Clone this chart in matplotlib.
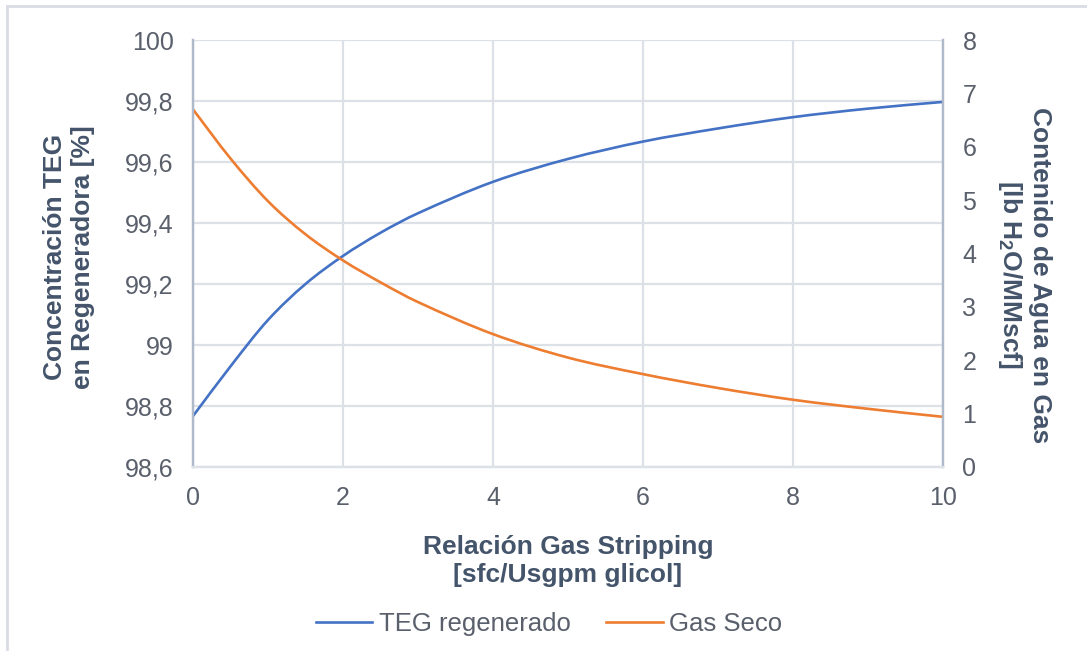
import matplotlib
matplotlib.use("Agg")
from matplotlib import pyplot as plt
from matplotlib.lines import Line2D
from matplotlib.path import Path
from matplotlib.patches import PathPatch
import numpy as np

# gas stripping ratio [sfc/Usgpm glicol]
stripping = [0, 0.5, 1, 1.5, 2, 2.5, 3, 4, 5, 6, 7, 8, 9, 10]
# regenerated TEG concentration [%]
teg = [98.767, 98.930, 99.082, 99.200, 99.292, 99.368, 99.432, 99.535,
       99.610, 99.667, 99.710, 99.747, 99.775, 99.797]
# water content of dry gas [lb H2O/MMscf]
gas_seco = [6.70, 5.78, 4.98, 4.36, 3.87, 3.46, 3.09, 2.49, 2.05, 1.74,
            1.48, 1.26, 1.09, 0.94]

xticks = [0, 2, 4, 6, 8, 10]
teg_ticks = [98.6, 98.8, 99.0, 99.2, 99.4, 99.6, 99.8, 100.0]
teg_labels = ['98,6', '98,8', '99', '99,2', '99,4', '99,6', '99,8', '100']
gas_ticks = [0, 1, 2, 3, 4, 5, 6, 7, 8]

plt.rcParams['font.family'] = ['Liberation Sans', 'DejaVu Sans']
txt = '#44546A'
tick_c = '#595F6B'
grid_c = '#DCE1E8'
spine_c = '#AEB9CA'
blue = '#4472C4'
orange = '#ED7D31'
W, H = 1087, 651


def smooth_path(x, y):
    # smoothed line through the points: cubic Hermite pieces as Beziers
    x = np.asarray(x, float)
    y = np.asarray(y, float)
    n = len(x)
    m = np.empty(n)
    m[0] = (y[1] - y[0]) / (x[1] - x[0])
    m[-1] = (y[-1] - y[-2]) / (x[-1] - x[-2])
    for i in range(1, n - 1):
        m[i] = (y[i + 1] - y[i - 1]) / (x[i + 1] - x[i - 1])
    verts = [(x[0], y[0])]
    codes = [Path.MOVETO]
    for i in range(n - 1):
        h = (x[i + 1] - x[i]) / 3
        verts += [(x[i] + h, y[i] + h * m[i]),
                  (x[i + 1] - h, y[i + 1] - h * m[i + 1]),
                  (x[i + 1], y[i + 1])]
        codes += [Path.CURVE4] * 3
    return Path(verts, codes)


fig = plt.figure(figsize=(W / 100, H / 100), dpi=100)
ax = fig.add_axes([193 / W, 1 - 467 / H, (943 - 193) / W, (467 - 40) / H])
ax2 = ax.twinx()

ax.add_patch(PathPatch(smooth_path(stripping, teg), fill=False,
                       edgecolor=blue, lw=1.9))
ax2.add_patch(PathPatch(smooth_path(stripping, gas_seco), fill=False,
                        edgecolor=orange, lw=1.9))

ax.set_xlim(0, 10)
ax.set_ylim(98.6, 100)
ax2.set_ylim(0, 8)
ax.set_xticks(xticks)
ax.set_xticklabels([str(v) for v in xticks])
ax.set_yticks(teg_ticks)
ax.set_yticklabels(teg_labels)
ax2.set_yticks(gas_ticks)

ax.grid(True, color=grid_c, lw=1.6)
ax.set_axisbelow(True)
for a in (ax, ax2):
    a.spines['top'].set_visible(False)
    a.spines['left'].set_color(spine_c)
    a.spines['right'].set_color(spine_c)
    a.spines['bottom'].set_color(grid_c)
    for s in ('left', 'right', 'bottom'):
        a.spines[s].set_linewidth(1.6)
    a.tick_params(length=0, labelsize=18, colors=tick_c)
ax.tick_params(axis='y', pad=14)
ax.tick_params(axis='x', pad=14)
ax2.tick_params(axis='y', pad=14)

lab = dict(fontsize=19, fontweight='bold', color=txt, ha='center',
           va='center', linespacing=1.2)
fig.text(568 / W, 1 - 561 / H, 'Relación Gas Stripping\n[sfc/Usgpm glicol]', **lab)
fig.text(69 / W, 1 - 257 / H, 'Concentración TEG\nen Regeneradora [%]',
         rotation=90, **lab)
fig.text(1024 / W, 1 - 275 / H,
         'Contenido de Agua en Gas\n[lb H$_\\mathregular{2}$O/MMscf]',
         rotation=270, **lab)

h1 = Line2D([], [], color=blue, lw=1.9)
h2 = Line2D([], [], color=orange, lw=1.9)
fig.legend([h1, h2], ['TEG regenerado', 'Gas Seco'], loc='center',
           bbox_to_anchor=(549 / W, 1 - 624 / H), ncol=2, frameon=False,
           fontsize=18.5, handlelength=2.2, handletextpad=0.25,
           columnspacing=1.4, labelcolor=tick_c)

# outer chart frame
fig.add_artist(Line2D([7 / W, 1], [1 - 6 / H, 1 - 6 / H], color='#D9DDE3', lw=2))
fig.add_artist(Line2D([7 / W, 7 / W], [0, 1 - 6 / H], color='#D9DDE3', lw=2))

fig.savefig('out.png', dpi=100)
